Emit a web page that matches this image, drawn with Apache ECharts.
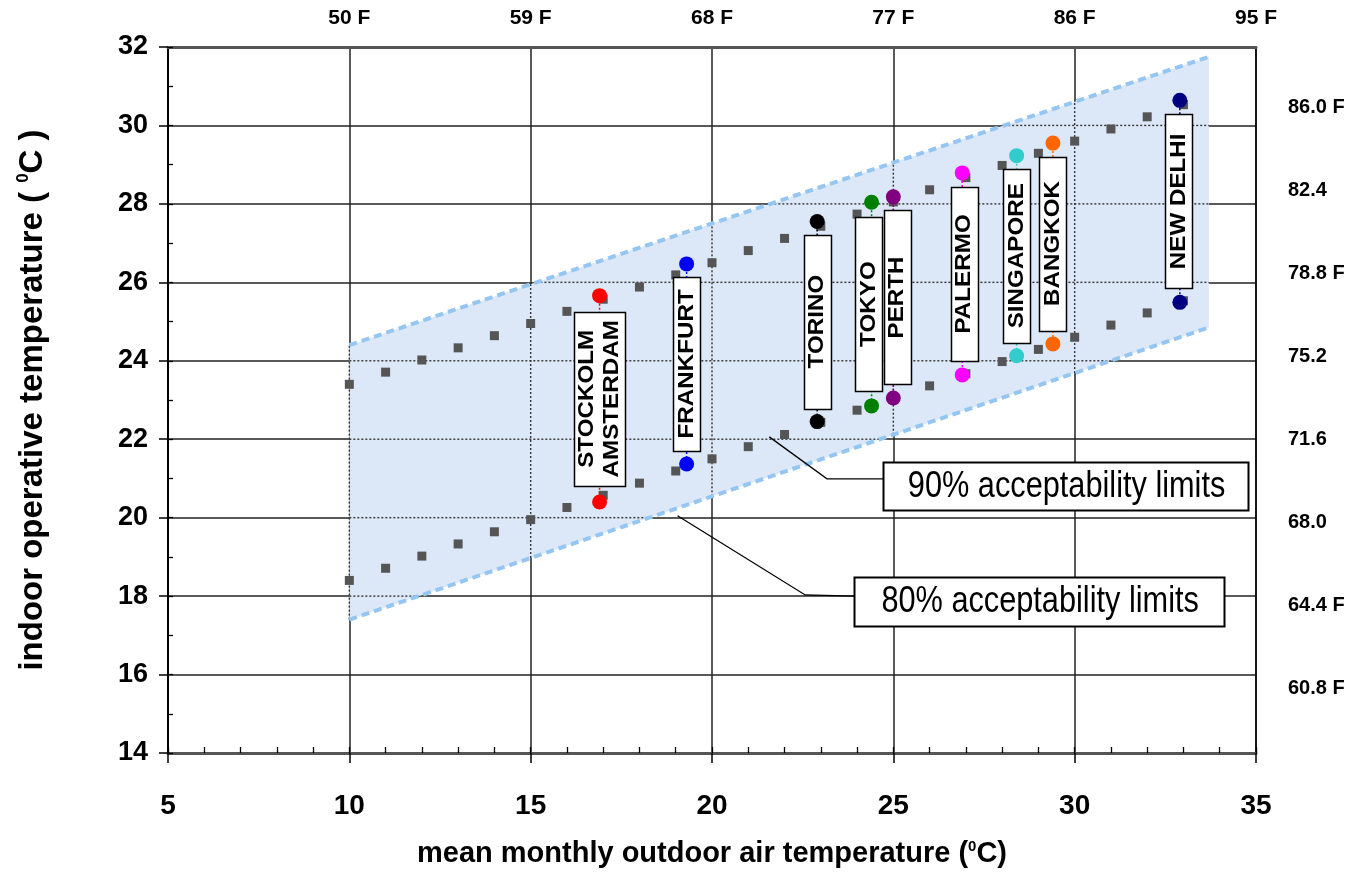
<!DOCTYPE html>
<html><head><meta charset="utf-8">
<script src="https://cdn.jsdelivr.net/npm/echarts@6/dist/echarts.min.js"></script>
<style>html,body{margin:0;padding:0;background:#fff}#c{width:1349px;height:886px}</style>
</head><body><div id="c"></div>
<script>
// ---------- data ----------
const xTickValues = [5, 10, 15, 20, 25, 30, 35];
const topTickLabels = ['', '50 F', '59 F', '68 F', '77 F', '86 F', '95 F'];
const yTickValues = [14, 16, 18, 20, 22, 24, 26, 28, 30, 32];
const rightTickValues = [60.8, 64.4, 68.0, 71.6, 75.2, 78.8, 82.4, 86.0];
const rightTickLabels = ['60.8 F', '64.4 F', '68.0', '71.6', '75.2', '78.8 F', '82.4', '86.0 F'];

// 80% acceptability band (edges)
const bandX = [10, 33.7];
const bandUpper80 = [24.4, 31.75];
const bandLower80 = [17.4, 24.85];

// 90% acceptability limits (grey square markers)
const limit90X = [10, 11, 12, 13, 14, 15, 16, 17, 18, 19, 20, 21, 22, 23, 24, 25, 26, 27, 28, 29, 30, 31, 32, 33];
const limit90Upper = [23.4, 23.71, 24.02, 24.33, 24.64, 24.95, 25.26, 25.57, 25.88, 26.19, 26.5, 26.81, 27.12, 27.43, 27.74, 28.05, 28.36, 28.67, 28.98, 29.29, 29.6, 29.91, 30.22, 30.53];
const limit90Lower = [18.4, 18.71, 19.02, 19.33, 19.64, 19.95, 20.26, 20.57, 20.88, 21.19, 21.5, 21.81, 22.12, 22.43, 22.74, 23.05, 23.36, 23.67, 23.98, 24.29, 24.6, 24.91, 25.22, 25.53];

// cities
const cityNames = ['STOCKOLM\nAMSTERDAM', 'FRANKFURT', 'TORINO', 'TOKYO', 'PERTH', 'PALERMO', 'SINGAPORE', 'BANGKOK', 'NEW DELHI'];
const cityX = [16.9, 19.3, 22.9, 24.4, 25.0, 26.9, 28.4, 29.4, 32.9];
const cityUpper = [25.66, 26.47, 27.55, 28.04, 28.18, 28.79, 29.23, 29.55, 30.64];
const cityLower = [20.40, 21.37, 22.45, 22.85, 23.05, 23.64, 24.13, 24.43, 25.49];
const cityColors = ['#ff0000', '#0000ff', '#000000', '#008000', '#800080', '#ff00ff', '#33cccc', '#ff6600', '#000080'];

const annotTexts = ['90% acceptability limits', '80% acceptability limits'];

// ---------- layout / style ----------
const FONT = '"Liberation Sans", Arial, sans-serif';
const boxShift = [0, 0, 0, -3, 4, 2, 0, 0, -1];
const annotLayout = [
  { box: [29.75, 20.81], w: 365, h: 48, leader: [[21.58, 22.06], [23.17, 20.99], [24.74, 20.99]] },
  { box: [29.02, 17.87], w: 370, h: 49, leader: [[19.05, 20.05], [22.57, 18.03], [23.94, 18.0]] }
];

function lerp(arr, x) { return arr[0] + (arr[1] - arr[0]) * (x - bandX[0]) / (bandX[1] - bandX[0]); }
function invert(arr, v) { return bandX[0] + (v - arr[0]) * (bandX[1] - bandX[0]) / (arr[1] - arr[0]); }

function bandRender(params, api) {
  const pts = [
    api.coord([bandX[0], bandLower80[0]]),
    api.coord([bandX[1], bandLower80[1]]),
    api.coord([bandX[1], bandUpper80[1]]),
    api.coord([bandX[0], bandUpper80[0]])
  ];
  const children = [{ type: 'polygon', shape: { points: pts }, style: { fill: '#dce8f7' } }];
  const dot = { stroke: '#333', lineWidth: 1.4, lineDash: [2, 2] };
  xTickValues.forEach(v => {
    if (v >= bandX[0] && v <= bandX[1]) {
      const a = api.coord([v, lerp(bandLower80, v)]), b = api.coord([v, lerp(bandUpper80, v)]);
      children.push({ type: 'line', shape: { x1: a[0], y1: a[1], x2: b[0], y2: b[1] }, style: dot });
    }
  });
  yTickValues.forEach(v => {
    const xs = Math.max(bandX[0], invert(bandUpper80, v));
    const xe = Math.min(bandX[1], invert(bandLower80, v));
    if (xe > xs) {
      const a = api.coord([xs, v]), b = api.coord([xe, v]);
      children.push({ type: 'line', shape: { x1: a[0], y1: a[1], x2: b[0], y2: b[1] }, style: dot });
    }
  });
  return { type: 'group', children };
}

function boxRender(params, api) {
  const i = params.dataIndex;
  const up = api.coord([cityX[i], cityUpper[i]]);
  const lo = api.coord([cityX[i], cityLower[i]]);
  const c = api.coord([cityX[i], (cityUpper[i] + cityLower[i]) / 2]);
  const w = cityNames[i].indexOf('\n') >= 0 ? 51 : 27, h = 174, dx = boxShift[i];
  return { type: 'group', children: [
    { type: 'line', shape: { x1: up[0], y1: up[1], x2: lo[0], y2: lo[1] }, style: { stroke: cityColors[i], lineWidth: 1.5, lineDash: [2, 2] } },
    { type: 'rect', shape: { x: Math.round(c[0] + dx - w / 2) + 0.5, y: Math.round(c[1] - h / 2) + 0.5, width: w, height: h }, style: { fill: '#fff', stroke: '#000', lineWidth: 1.5 } },
    { type: 'text', x: c[0] + dx, y: c[1], rotation: Math.PI / 2, scaleX: 1.1,
      style: { text: cityNames[i], fill: '#000', fontSize: 22, fontWeight: 'bold', fontFamily: FONT, align: 'center', verticalAlign: 'middle', lineHeight: 25 } }
  ] };
}

function annotRender(params, api) {
  const i = params.dataIndex;
  const L = annotLayout[i];
  const c = api.coord(L.box);
  const pts = L.leader.map(p => api.coord(p));
  return { type: 'group', children: [
    { type: 'polyline', shape: { points: pts }, style: { stroke: '#000', lineWidth: 1.3, fill: null } },
    { type: 'rect', shape: { x: Math.round(c[0] - L.w / 2) + 0.5, y: Math.round(c[1] - L.h / 2) + 0.5, width: L.w, height: L.h }, style: { fill: '#fff', stroke: '#000', lineWidth: 2 } },
    { type: 'text', x: c[0] + 1, y: c[1] + 1, scaleX: 0.83, style: { text: annotTexts[i], fill: '#000', fontSize: 37, fontFamily: FONT, align: 'center', verticalAlign: 'middle' } }
  ] };
}

const chart = echarts.init(document.getElementById('c'), null, { renderer: 'canvas' });
const supStyle = { fontSize: 15, fontWeight: 'bold', verticalAlign: 'top', lineHeight: 30, fontFamily: FONT, color: '#000' };

chart.setOption({
  animation: false,
  backgroundColor: '#fff',
  grid: { left: 168, right: 93, top: 47, bottom: 133, containLabel: false, outerBoundsMode: 'none' },
  xAxis: [
    { type: 'value', position: 'bottom', min: 5, max: 35, interval: 5,
      axisLine: { show: true, onZero: false, lineStyle: { color: '#555', width: 3 } },
      axisTick: { show: true, inside: false, length: 10, lineStyle: { color: '#000', width: 1.5 } },
      axisLabel: { margin: 39, color: '#000', fontSize: 28, fontWeight: 'bold', fontFamily: FONT },
      splitLine: { show: true, lineStyle: { color: '#222', width: 1.5 } },
      name: 'mean monthly outdoor air temperature ({sup|0}C)', nameLocation: 'middle', nameGap: 86,
      nameTextStyle: { color: '#000', fontSize: 29, fontWeight: 'bold', fontFamily: FONT, rich: { sup: supStyle } } },
    { type: 'value', position: 'top', min: 5, max: 35, interval: 5,
      axisLine: { show: true, onZero: false, lineStyle: { color: '#555', width: 3 } },
      axisTick: { show: false },
      axisLabel: { margin: 18, color: '#000', fontSize: 21, fontWeight: 'bold', fontFamily: FONT,
        formatter: v => { const k = xTickValues.findIndex(t => Math.abs(t - v) < 1e-6); return k >= 0 ? topTickLabels[k] : ''; } },
      splitLine: { show: false } },
    { type: 'value', position: 'bottom', min: 5, max: 35, interval: 1,
      axisLine: { show: false }, axisLabel: { show: false }, splitLine: { show: false },
      axisTick: { show: true, inside: true, length: 6, lineStyle: { color: '#000', width: 1.3 } } }
  ],
  yAxis: [
    { type: 'value', position: 'left', min: 14, max: 32, interval: 2,
      axisLine: { show: true, onZero: false, lineStyle: { color: '#000', width: 2 } },
      axisTick: { show: true, inside: false, length: 9, lineStyle: { color: '#000', width: 1.5 } },
      axisLabel: { margin: 20, color: '#000', fontSize: 27, fontWeight: 'bold', fontFamily: FONT },
      splitLine: { show: true, lineStyle: { color: '#222', width: 1.5 } },
      name: 'indoor operative temperature ( {sup|0}C )', nameLocation: 'middle', nameGap: 118, nameRotate: 90,
      nameTextStyle: { color: '#000', fontSize: 33, fontWeight: 'bold', fontFamily: FONT, rich: { sup: Object.assign({}, supStyle, { fontSize: 17, lineHeight: 35 }) } } },
    { type: 'value', position: 'right', min: 58.0, max: 88.6, interval: 0.2,
      axisLine: { show: true, onZero: false, lineStyle: { color: '#000', width: 1.5 } },
      axisTick: { show: false }, splitLine: { show: false },
      axisLabel: { interval: 0, margin: 32, color: '#000', fontSize: 20, fontWeight: 'bold', fontFamily: FONT,
        formatter: v => { const k = rightTickValues.findIndex(t => Math.abs(t - v) < 0.01); return k >= 0 ? rightTickLabels[k] : ''; } } },
    { type: 'value', position: 'left', min: 14, max: 32, interval: 1,
      axisLine: { show: false }, axisLabel: { show: false }, splitLine: { show: false },
      axisTick: { show: true, inside: true, length: 5, lineStyle: { color: '#000', width: 1.3 } } }
  ],
  series: [
    { type: 'custom', name: 'band', coordinateSystem: 'cartesian2d', xAxisIndex: 0, yAxisIndex: 0, z: 1, silent: true,
      renderItem: bandRender, data: [[bandX[0], bandLower80[0]]] },
    { type: 'line', name: 'upper80', xAxisIndex: 0, yAxisIndex: 0, z: 3, symbol: 'none', silent: true,
      data: bandX.map((x, i) => [x, bandUpper80[i]]),
      lineStyle: { color: '#95c6f2', width: 4, type: [8, 5] } },
    { type: 'line', name: 'lower80', xAxisIndex: 0, yAxisIndex: 0, z: 3, symbol: 'none', silent: true,
      data: bandX.map((x, i) => [x, bandLower80[i]]),
      lineStyle: { color: '#95c6f2', width: 4, type: [8, 5] } },
    { type: 'scatter', name: 'limits90', xAxisIndex: 0, yAxisIndex: 0, z: 4, silent: true,
      symbol: 'rect', symbolSize: 9, itemStyle: { color: '#555', opacity: 1 },
      data: limit90X.map((x, i) => [x, limit90Upper[i]]).concat(limit90X.map((x, i) => [x, limit90Lower[i]])) },
    { type: 'custom', name: 'boxes', coordinateSystem: 'cartesian2d', xAxisIndex: 0, yAxisIndex: 0, z: 5, silent: true,
      renderItem: boxRender, data: cityX.map((x, i) => [x, (cityUpper[i] + cityLower[i]) / 2]) },
    { type: 'scatter', name: 'cities', xAxisIndex: 0, yAxisIndex: 0, z: 6, silent: true,
      symbol: 'circle', symbolSize: 15,
      data: cityX.map((x, i) => ({ value: [x, cityUpper[i]], itemStyle: { color: cityColors[i], opacity: 1 } }))
        .concat(cityX.map((x, i) => ({ value: [x, cityLower[i]], itemStyle: { color: cityColors[i], opacity: 1 } }))) },
    { type: 'custom', name: 'annotations', coordinateSystem: 'cartesian2d', xAxisIndex: 0, yAxisIndex: 0, z: 6, silent: true,
      renderItem: annotRender, data: annotLayout.map(L => L.box) }
  ]
});
</script></body></html>
